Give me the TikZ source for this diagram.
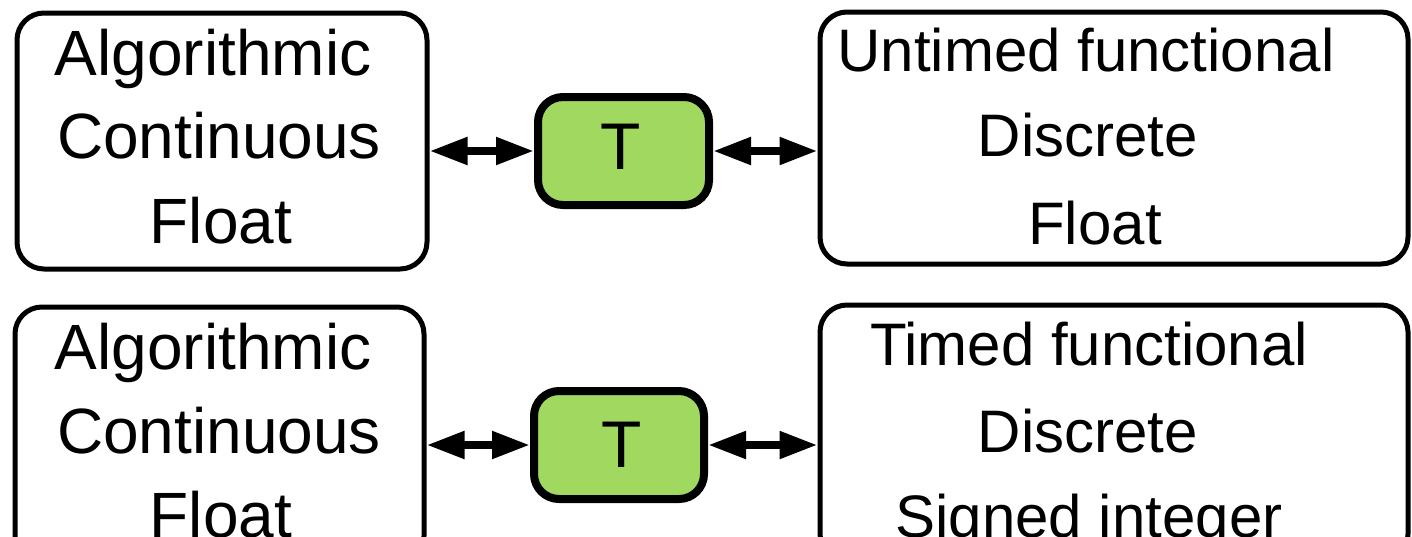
\documentclass[tikz,border=0pt]{standalone}
\usepackage{fontspec}
\setmainfont{Liberation Sans}
\usetikzlibrary{arrows.meta}
\definecolor{tgreen}{RGB}{160,216,96}
\begin{document}
\begin{tikzpicture}[x=1pt,y=-1pt,
  panel/.style={draw, line width=5pt, rounded corners=27pt, inner sep=0pt},
  conv/.style={draw, line width=8pt, fill=tgreen, rounded corners=25pt, inner sep=0pt,
    minimum width=171pt, minimum height=108pt},
  txt/.style={font=\fontsize{64}{84}\selectfont, anchor=base, inner sep=0pt},
  rtxt/.style={font=\fontsize{60}{84}\selectfont, anchor=base, inner sep=0pt},
  ttxt/.style={font=\fontsize{66}{80}\selectfont, anchor=base, inner sep=0pt},
  link/.style={{Triangle[length=38pt,width=26pt]}-{Triangle[length=38pt,width=26pt]}, line width=8pt}]
\useasboundingbox (0,0) rectangle (1412,536);
\clip (0,0) rectangle (1412,536);

% description panels
\node[panel, minimum width=410pt, minimum height=256pt] (tl) at (222,141) {};
\node[panel, minimum width=588pt, minimum height=252pt] (tr) at (1114,138) {};
\node[panel, minimum width=409pt, minimum height=256pt] (bl) at (219.5,435) {};
\node[panel, minimum width=588pt, minimum height=256pt] (br) at (1114,433) {};

% transformation blocks
\node[conv] (t1) at (623.5,151) {};
\node[conv, minimum width=170pt] (t2) at (619,445) {};
\node[ttxt] (t1txt) at (621,169) {T};
\node[ttxt] (t2txt) at (621.5,467) {T};

% panel texts
\node[txt] (tla) at (213,75) {Algorithmic};
\node[txt] (tlb) at (219,158) {Continuous};
\node[txt] (tlc) at (221,243) {Float};

\node[rtxt] (tra) at (1086,71) {Untimed functional};
\node[rtxt] (trb) at (1088,156) {Discrete};
\node[rtxt] (trc) at (1095,244) {Float};

\node[txt] (bla) at (213,369) {Algorithmic};
\node[txt] (blb) at (219,453) {Continuous};
\node[txt] (blc) at (221,537) {Float};

\node[rtxt] (bra) at (1089,365) {Timed functional};
\node[rtxt] (brb) at (1088,452) {Discrete};
\node[rtxt] (brc) at (1089,537) {Signed integer};

% connectors
\draw[link] (tl.east |- t1.west) -- (t1.west);
\draw[link] (t1.east) -- (tr.west |- t1.east);
\draw[link] (bl.east |- t2.west) -- (t2.west);
\draw[link] (t2.east) -- (br.west |- t2.east);
\end{tikzpicture}
\end{document}
